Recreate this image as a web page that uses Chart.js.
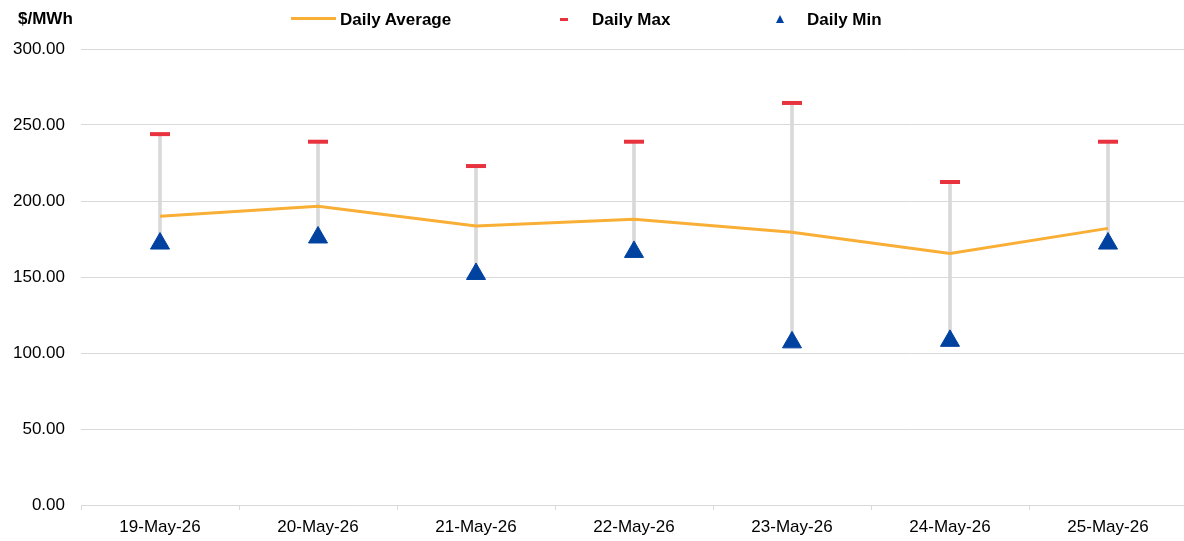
<!DOCTYPE html>
<html>
<head>
<meta charset="utf-8">
<script src="https://cdn.jsdelivr.net/npm/chart.js@4.4.1/dist/chart.umd.min.js"></script>
<style>
  html, body { margin: 0; padding: 0; background: #fff; overflow: hidden; }
  #wrap { position: relative; width: 1184px; height: 541px; overflow: hidden; font-family: "Liberation Sans", Arial, sans-serif; }
  #unit { position: absolute; left: 18px; top: 9px; font-size: 17px; font-weight: bold; color: #000; }
  .lg { position: absolute; top: 10px; font-size: 17px; font-weight: bold; color: #000; }
  .sym { position: absolute; }
</style>
</head>
<body>
<div id="wrap">
  <canvas id="priceChart" width="1201" height="541"></canvas>
  <div id="unit">$/MWh</div>
  <div class="sym" style="left:291px; top:17px; width:45px; height:3px; background:#F9AE35;"></div>
  <div class="lg" style="left:340px;">Daily Average</div>
  <div class="sym" style="left:560px; top:18px; width:8px; height:3px; background:#E8333F;"></div>
  <div class="lg" style="left:592px;">Daily Max</div>
  <div class="sym" style="left:776px; top:15px; width:0; height:0; border-left:4px solid transparent; border-right:4px solid transparent; border-bottom:8px solid #0042A0;"></div>
  <div class="lg" style="left:807px;">Daily Min</div>
</div>
<script>
  // ---- data ----
  const days = ["19-May-26", "20-May-26", "21-May-26", "22-May-26", "23-May-26", "24-May-26", "25-May-26"];
  const dailyAvg = [190, 196.5, 183.5, 188, 179.5, 165.5, 182];
  const dailyMax = [244, 239, 223, 239, 264.5, 212.5, 239];
  const dailyMin = [172, 176, 152, 166.5, 107, 108, 172];
  const yTicks = [0, 50, 100, 150, 200, 250, 300];

  // high-low range as floating bars
  const ranges = days.map((d, i) => [dailyMin[i], dailyMax[i]]);

  const ctx = document.getElementById("priceChart");

  new Chart(ctx, {
    data: {
      labels: days,
      datasets: [
        {
          type: "line",
          label: "Daily Min",
          data: dailyMin,
          showLine: false,
          pointStyle: "triangle",
          pointRadius: 11,
          pointBackgroundColor: "#0042A0",
          pointBorderColor: "#0042A0",
          pointBorderWidth: 1,
          order: 1,
        },
        {
          type: "line",
          label: "Daily Max",
          data: dailyMax,
          showLine: false,
          pointStyle: "line",
          pointRadius: 10,
          pointBorderColor: "#E8333F",
          pointBorderWidth: 4,
          order: 2,
        },
        {
          type: "line",
          label: "Daily Average",
          data: dailyAvg,
          borderColor: "#F9AE35",
          borderWidth: 3,
          pointRadius: 0,
          tension: 0,
          order: 3,
        },
        {
          type: "bar",
          label: "Range",
          data: ranges,
          backgroundColor: "#D9D9D9",
          barThickness: 3,
          order: 4,
        },
      ],
    },
    options: {
      responsive: false,
      animation: false,
      layout: {
        padding: { top: 49, right: 0, bottom: 0, left: 0 },
      },
      plugins: {
        legend: { display: false },
        tooltip: { enabled: false },
      },
      scales: {
        x: {
          offset: true,
          afterFit: (axis) => {
            axis.height = 36;
          },
          grid: {
            display: true,
            drawOnChartArea: false,
            drawTicks: true,
            tickLength: 5,
            color: "#D9D9D9",
          },
          border: { display: true, color: "#D9D9D9" },
          ticks: {
            color: "#000",
            font: { family: "Liberation Sans", size: 17 },
            maxRotation: 0,
            padding: 7,
          },
        },
        y: {
          min: 0,
          max: 300,
          afterBuildTicks: (axis) => {
            axis.ticks = yTicks.map((v) => ({ value: v }));
          },
          afterFit: (axis) => {
            axis.width = 81;
          },
          grid: {
            color: "#D9D9D9",
            drawTicks: false,
          },
          border: { display: false },
          ticks: {
            color: "#000",
            padding: 16,
            font: { family: "Liberation Sans", size: 17 },
            callback: (v) => Number(v).toFixed(2),
          },
        },
      },
    },
  });
</script>
</body>
</html>
